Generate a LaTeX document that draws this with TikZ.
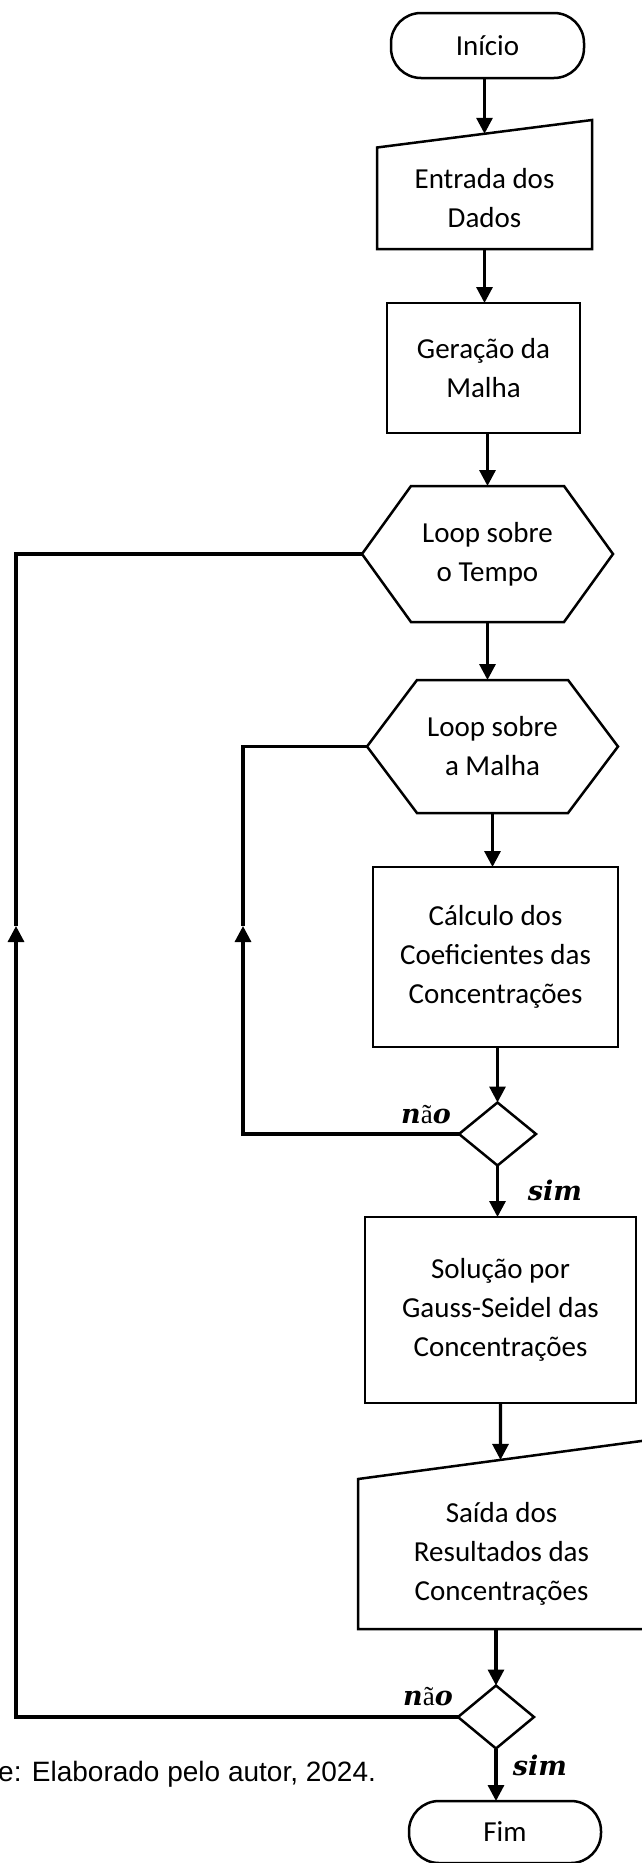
\RequirePackage{fix-cm}
\documentclass[tikz,border=0pt]{standalone}
\usepackage{fontspec}
\setmainfont{Carlito}
\newfontfamily\capfont{Liberation Sans}
\newfontfamily\serfont{Liberation Serif}
\newfontfamily\labfont{DejaVu Serif}
\usetikzlibrary{arrows.meta,shapes.geometric,calc}

\begin{document}
\begin{tikzpicture}[x=1pt,y=-1pt,
  boxtxt/.style={inner sep=0pt, outer sep=0pt, align=center, font=\fontsize{29}{39}\selectfont},
  outline/.style={draw=black, line width=2.5pt, line join=miter},
  procbox/.style={boxtxt, outline, rectangle},
  termbox/.style={boxtxt, outline, rectangle, rounded corners=30pt},
  freebox/.style={boxtxt},
  decbox/.style={diamond, outline, inner sep=0pt, outer sep=0pt},
  conn/.style={draw=black, line width=3.2pt},
  arr/.style={conn, -{Triangle[length=16pt,width=16pt]}},
  lab/.style={inner sep=0pt, font=\fontsize{27}{33}\selectfont},
]
\useasboundingbox (0,0) rectangle (641,1863);

% nodes
\node[termbox, minimum width=193pt, minimum height=65pt] (ini) at (487.5,45.5) {Início};

\node[freebox, minimum width=215pt, minimum height=101.5pt] (ent) at (484.5,198.25) {Entrada dos\\Dados};
\draw[outline] (ent.south west) -- (ent.south east) -- ([yshift=27.5pt]ent.north east) coordinate (entTR) -- (ent.north west) -- cycle;

\node[procbox, minimum width=193pt, minimum height=130pt] (ger) at (483.5,368) {Geração da\\Malha};

\node[freebox, minimum width=251pt, minimum height=136pt] (tempo) at (487.5,554) {Loop sobre\\o Tempo};
\draw[outline] (tempo.west) -- ([xshift=49pt]tempo.north west) -- ([xshift=-49pt]tempo.north east) -- (tempo.east) -- ([xshift=-49pt]tempo.south east) -- ([xshift=49pt]tempo.south west) -- cycle;

\node[freebox, minimum width=251pt, minimum height=133pt] (malha) at (492.5,746.5) {Loop sobre\\a Malha};
\draw[outline] (malha.west) -- ([xshift=50pt]malha.north west) -- ([xshift=-50pt]malha.north east) -- (malha.east) -- ([xshift=-50pt]malha.south east) -- ([xshift=50pt]malha.south west) -- cycle;

\node[procbox, minimum width=245pt, minimum height=180pt] (calc) at (495.5,957) {Cálculo dos\\Coeficientes das\\Concentrações};

\node[decbox, minimum width=77pt, minimum height=63pt] (d1) at (497.5,1134) {};

\node[procbox, minimum width=271pt, minimum height=186pt] (sol) at (500.5,1310) {Solução por\\Gauss-Seidel das\\Concentrações};

\node[freebox, minimum width=287pt, minimum height=150pt] (sai) at (501.5,1554) {Saída dos\\Resultados das\\Concentrações};
\draw[outline] (sai.south west) -- (sai.south east) -- ([yshift=38.5pt]sai.north east) coordinate (saiTR) -- (sai.north west) -- cycle;

\node[decbox, minimum width=76pt, minimum height=63pt] (d2) at (496,1717) {};

\node[termbox, minimum width=192pt, minimum height=62pt] (fim) at (505,1832) {Fim};

% main flow
\draw[arr] (ini.south -| ent.center) -- ($(ent.north west)!0.5!(entTR)$);
\draw[arr] (ent.south) -- (ent.south |- ger.north);
\draw[arr] (tempo.north |- ger.south) -- (tempo.north);
\draw[arr] (tempo.south) -- (tempo.south |- malha.north);
\draw[arr] (malha.south) -- (malha.south |- calc.north);
\draw[arr] (d1.north |- calc.south) -- (d1.north);
\draw[arr] (d1.south) -- (d1.south |- sol.north);
\draw[arr] (sol.south) -- ($(sai.north west)!0.4965!(saiTR)$);
\draw[arr] (d2.north |- sai.south) -- (d2.north);
\draw[arr] (d2.south) -- (d2.south |- fim.north);

% loops
\coordinate (innerUp) at (243,926);
\coordinate (outerUp) at (16,926);
\draw[arr] (d1.west) -| (innerUp);
\draw[conn] (innerUp) |- (malha.west);
\draw[arr] (d2.west) -| (outerUp);
\draw[conn] (outerUp) |- (tempo.west);

% labels
\node[lab] (n1) at (426,1115) {{\labfont\bfseries\itshape n}{\serfont ã}{\labfont\bfseries\itshape o}};
\node[lab] (s1) at (555,1190) {{\labfont\bfseries\itshape sim}};
\node[lab] (n2) at (428,1697) {{\labfont\bfseries\itshape n}{\serfont ã}{\labfont\bfseries\itshape o}};
\node[lab] (s2) at (540,1765) {{\labfont\bfseries\itshape sim}};

% caption
\node[anchor=base west, inner sep=0pt, font=\capfont\fontsize{28}{34}\selectfont] (cap) at (-2,1781) {e: Elaborado pelo autor, 2024.};
\end{tikzpicture}
\end{document}
